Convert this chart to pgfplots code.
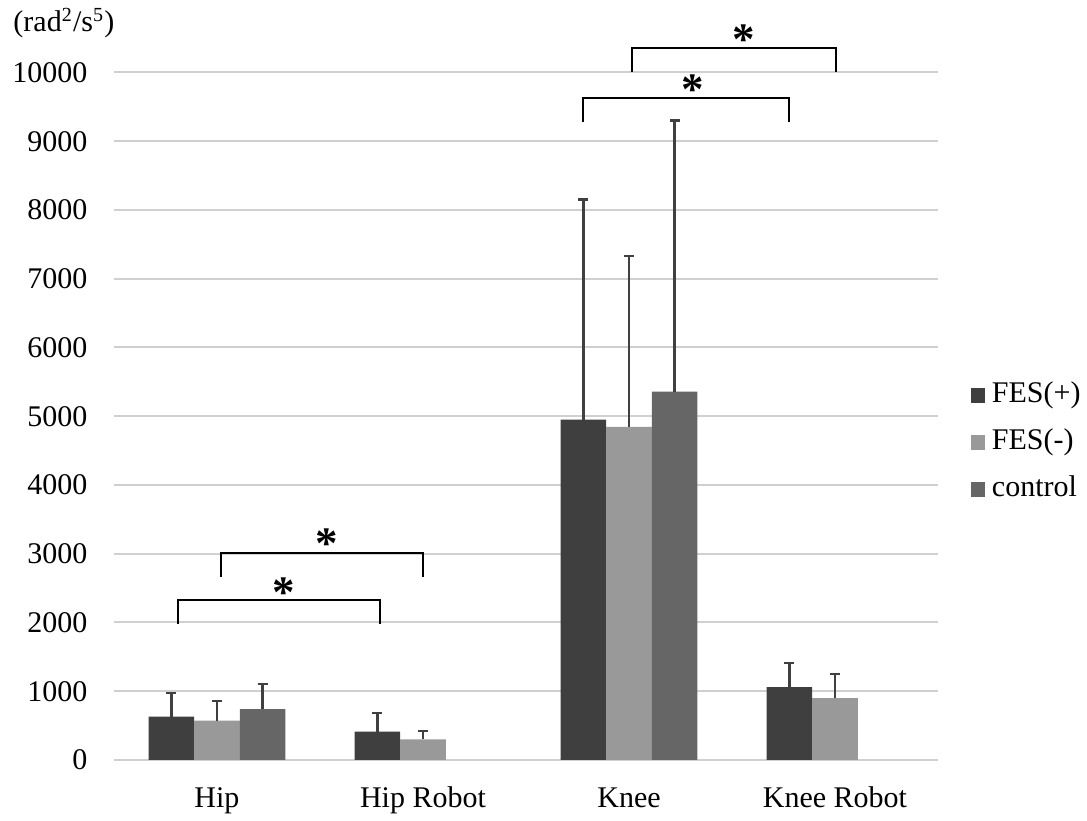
\documentclass[border=0pt]{standalone}
\usepackage{fontspec}
\setmainfont{Liberation Serif}
\usepackage{pgfplots}
\usepackage{pgfplotstable}
\pgfplotsset{compat=1.18}
\definecolor{cplus}{HTML}{3F3F3F}
\definecolor{cminus}{HTML}{999999}
\definecolor{ccontrol}{HTML}{666666}
\definecolor{cerr}{HTML}{404040}
\definecolor{cgrid}{HTML}{D0D0D0}
\pgfplotstableread{
x y e
0 630 340
1 412 268
2 4949 3202
3 1058 350
}\fesplus
\pgfplotstableread{
x y e
0 572 291
1 301 126
2 4847 2489
3 898 354
}\fesminus
\pgfplotstableread{
x y e
0 738 368
2 5357 3944
}\control
\newcommand{\sig}[2]{\node[anchor=base, inner sep=0pt, font=\fontsize{18}{18}\selectfont\bfseries] at ([yshift=-8.6pt]axis cs:#1,#2) {*};}
\newcommand{\brk}[4]{\draw[line width=0.8pt, black] (axis cs:#1,#3) -- (axis cs:#1,#4) -- (axis cs:#2,#4) -- (axis cs:#2,#3);}
\begin{document}
\fontsize{12}{14}\selectfont
\begin{tikzpicture}
\begin{axis}[
  width=329.6pt, height=275pt, scale only axis,
  xmin=-0.5, xmax=3.5, ymin=0, ymax=10000,
  enlargelimits=false, clip=false,
  ybar=0pt, bar width=0.221,
  xtick={0,1,2,3}, xticklabels={Hip, Hip Robot, Knee, Knee Robot},
  ytick={0,1000,...,10000},
  scaled y ticks=false,
  /pgf/number format/1000 sep={},
  /pgf/number format/assume math mode=true,
  ymajorgrids, grid style={line width=0.8pt, color=cgrid},
  axis line style={draw=none},
  major tick length=0pt,
  yticklabel style={anchor=east, inner sep=0pt, xshift=-10.4pt},
  xticklabel style={anchor=base, inner sep=0pt, yshift=-19.2pt},
  legend style={draw=none, fill=none, inner sep=0pt, outer sep=0pt,
    at={(1.04,0.5502)}, anchor=north west, column sep=2.6pt, row sep=7.8pt,
    nodes={inner sep=0pt, text height=8.5pt, text depth=2.5pt, anchor=west}},
  legend cell align=left,
  legend image code/.code={\fill[#1,draw=none] (0pt,-2.9pt) rectangle (5.8pt,2.9pt);},
  error bars/y dir=plus, error bars/y explicit,
  error bars/error bar style={line width=0.9pt, color=cerr},
  error bars/error mark options={line width=0.9pt, color=cerr, mark size=2pt, rotate=90},
]
\addplot[fill=cplus, draw=none] table[x=x, y=y, y error=e] {\fesplus};
\addlegendentry{FES(+)}
\addplot[fill=cminus, draw=none] table[x=x, y=y, y error=e] {\fesminus};
\addlegendentry{FES(-)}
\addplot[fill=ccontrol, draw=none] table[x=x, y=y, y error=e] {\control};
\addlegendentry{control}
\coordinate (O) at (rel axis cs:0,0);
\node[anchor=base west, inner sep=0pt] at ([xshift=-40.4pt,yshift=291.2pt]rel axis cs:0,0) {(rad\textsuperscript{2}/s\textsuperscript{5})};
\brk{-0.191}{0.791}{1980}{2329}
\brk{0.018}{1.0}{2664}{3013}
\brk{1.775}{2.775}{9277}{9626}
\brk{2.013}{3.003}{10010}{10360}
\sig{0.324}{2536}
\sig{0.5325}{3250}
\sig{2.309}{9850}
\sig{2.555}{10568}
\end{axis}
\pgfresetboundingbox
\path[use as bounding box] ([xshift=-45.6pt,yshift=-24.4pt]O) rectangle ++(434.8pt,328.4pt);
\end{tikzpicture}
\end{document}
